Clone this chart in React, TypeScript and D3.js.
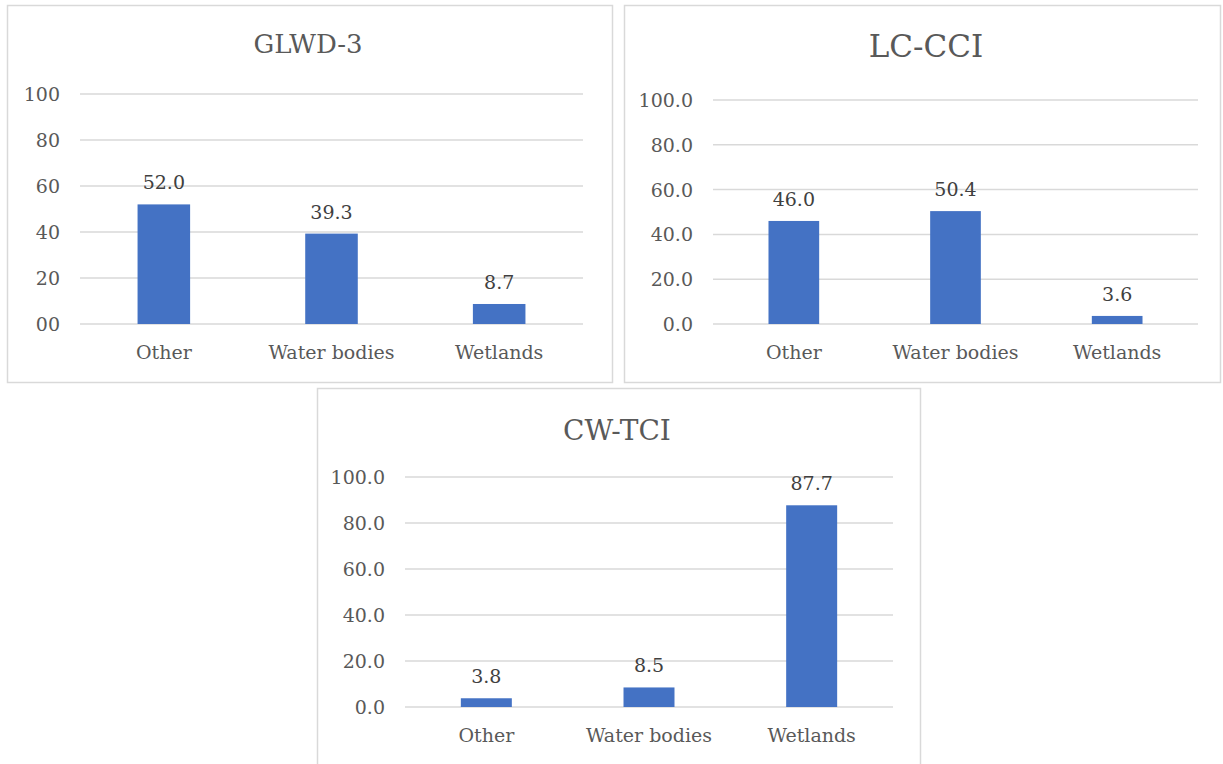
import React from "react";
import * as d3 from "d3";

const categories = ["Other", "Water bodies", "Wetlands"];
const glwdValues = [52.0, 39.3, 8.7];
const lcValues = [46.0, 50.4, 3.6];
const cwValues = [3.8, 8.5, 87.7];
const tickValues = [0, 20, 40, 60, 80, 100];
const glwdTickLabels = ["00", "20", "40", "60", "80", "100"];
const decTickLabels = ["0.0", "20.0", "40.0", "60.0", "80.0", "100.0"];
const titles = ["GLWD-3", "LC-CCI", "CW-TCI"];

const FONT = "DejaVu Serif";
const TXT = "#595959";
const BAR = "#4472C4";
const GRID = "#D9D9D9";

type PanelProps = {
  box: [number, number, number, number];
  plot: [number, number, number, number];
  title: string;
  titleSize: number;
  titleY: number;
  titleX: number;
  values: number[];
  tickLabels: string[];
};

function Panel({ box, plot, title, titleSize, titleY, titleX, values, tickLabels }: PanelProps) {
  const [bx, by, bw, bh] = box;
  const [x0, x1, yTop, yBot] = plot;
  const x = d3.scaleBand<string>().domain(categories).range([x0, x1]).padding(0);
  const y = d3.scaleLinear().domain([0, 100]).range([yBot, yTop]);
  const barW = x.bandwidth() / 3.19;
  const ts = { fontFamily: FONT };
  return (
    <g>
      <rect x={bx + 0.5} y={by + 0.5} width={bw} height={bh} fill="#fff" stroke={GRID} strokeWidth={1.5} />
      <text x={titleX} y={titleY} textAnchor="middle" style={ts} fontSize={titleSize} fill={TXT}>
        {title}
      </text>
      {tickValues.map((t, i) => (
        <g key={t}>
          <line x1={x0} x2={x1} y1={y(t)} y2={y(t)} stroke={GRID} strokeWidth={1.5} />
          <text x={x0 - 20} y={y(t) + 7} textAnchor="end" style={ts} fontSize={19} fill={TXT}>
            {tickLabels[i]}
          </text>
        </g>
      ))}
      {categories.map((c, i) => {
        const cx = (x(c) as number) + x.bandwidth() / 2;
        const v = values[i];
        return (
          <g key={c}>
            <rect x={cx - barW / 2} y={y(v)} width={barW} height={y(0) - y(v)} fill={BAR} />
            <text x={cx} y={y(v) - 15} textAnchor="middle" style={ts} fontSize={19} fill="#404040">
              {v.toFixed(1)}
            </text>
            <text x={cx} y={yBot + 35} textAnchor="middle" style={ts} fontSize={19} fill={TXT}>
              {c}
            </text>
          </g>
        );
      })}
    </g>
  );
}

export default function App() {
  return (
    <svg
      width={1223}
      height={764}
      style={{ position: "absolute", left: 0, top: 0, background: "#fff" }}
    >
      <Panel box={[7, 5, 605, 377]} plot={[80, 583, 94, 324]} title={titles[0]} titleSize={26} titleX={308} titleY={53} values={glwdValues} tickLabels={glwdTickLabels} />
      <Panel box={[624, 5, 596, 377]} plot={[713, 1198, 100, 324]} title={titles[1]} titleSize={31} titleX={926} titleY={57} values={lcValues} tickLabels={decTickLabels} />
      <Panel box={[317, 388, 603, 390]} plot={[405, 893, 477, 707]} title={titles[2]} titleSize={28} titleX={617} titleY={440} values={cwValues} tickLabels={decTickLabels} />
    </svg>
  );
}
